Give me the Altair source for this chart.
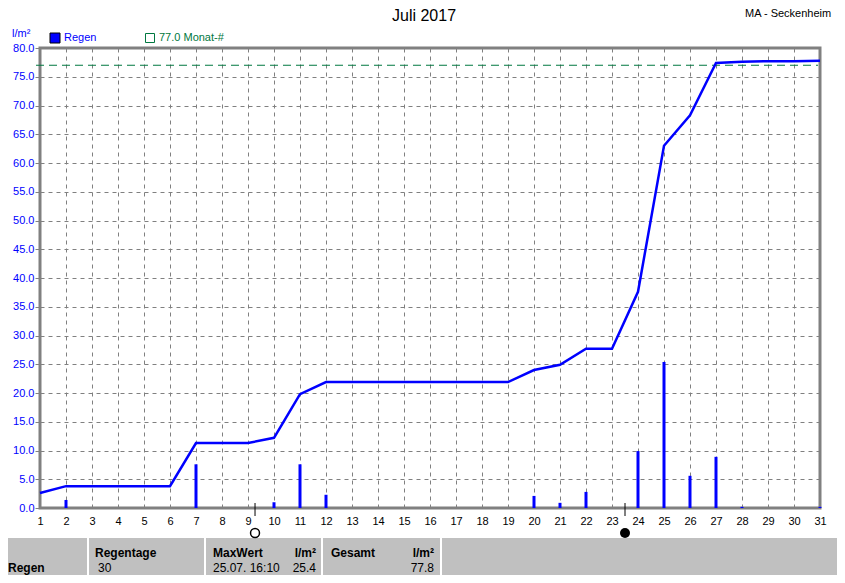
import altair as alt
import pandas as pd

# ---------------- data ----------------
days = list(range(1, 32))
cumulative = [2.6, 3.8, 3.8, 3.8, 3.8, 3.8, 11.3, 11.3, 11.3, 12.2, 19.8, 21.9,
              21.9, 21.9, 21.9, 21.9, 21.9, 21.9, 21.9, 24.0, 24.9, 27.7, 27.7,
              37.6, 63.0, 68.3, 77.4, 77.6, 77.7, 77.7, 77.8]
rain_days = [2, 7, 10, 11, 12, 20, 21, 22, 24, 25, 26, 27, 28, 31]
rain_values = [1.4, 7.6, 1.0, 7.6, 2.3, 2.1, 0.9, 2.8, 9.9, 25.4, 5.6, 8.9, 0.2, 0.2]
full_moon_day = [9.27]
new_moon_day = [23.5]
y_ticks = list(range(0, 81, 5))
x_ticks = days
monat_avg = 77.0

title_text = "Juli 2017"
station_text = "MA - Seckenheim"
unit_text = "l/m²"
legend_rain = "Regen"
legend_avg = "77.0 Monat-#"

FONT = "Liberation Sans"
BLUE = "#0000ff"
GREEN = "#007840"
GRAY = "#808080"

line_df = pd.DataFrame({"day": days, "value": cumulative})
bar_df = pd.DataFrame({"day": rain_days, "value": rain_values})
full_df = pd.DataFrame({"day": full_moon_day, "value": [0.0]})
new_df = pd.DataFrame({"day": new_moon_day, "value": [0.0]})
one = pd.DataFrame({"a": [0]})

xscale = alt.Scale(domain=[1, 31], nice=False, zero=False)
yscale = alt.Scale(domain=[0, 80], nice=False)
xaxis = alt.Axis(values=x_ticks, title=None, ticks=False, labelPadding=7,
                 labelColor="black", labelFontSize=11, format="d",
                 grid=True, domain=False, labelFlush=False)
yaxis = alt.Axis(values=y_ticks, title=None, format=".1f", labelColor=BLUE,
                 labelFontSize=11, tickSize=5, tickColor=GRAY, labelPadding=1,
                 grid=True, domain=False, labelFlush=False)
X = alt.X("day:Q", scale=xscale, axis=xaxis)
Y = alt.Y("value:Q", scale=yscale, axis=yaxis)

# ---------------- layers ----------------
table_bg = alt.Chart(one).mark_rect(color="#c0c0c0").encode(
    x=alt.value(-40), x2=alt.value(805), y=alt.value(490), y2=alt.value(545))

seps = [alt.Chart(one).mark_rule(color="white", strokeWidth=2).encode(
    x=alt.value(px), y=alt.value(490), y2=alt.value(545)) for px in [48, 165, 282, 401]]

line = alt.Chart(line_df).mark_line(color=BLUE, strokeWidth=2.5).encode(x=X, y=Y)

bars = alt.Chart(bar_df).mark_rule(color=BLUE, strokeWidth=3).encode(
    x=X, y=Y, y2=alt.datum(0))

avg_line = alt.Chart(one).mark_rule(color=GREEN, strokeWidth=1.2, strokeDash=[8, 5]).encode(
    y=alt.datum(monat_avg, scale=yscale, axis=yaxis), x=alt.value(-4), x2=alt.value(778))

moon_ticks_full = alt.Chart(full_df).mark_rule(color="black", strokeWidth=1).encode(
    x=X, y=alt.value(455), y2=alt.value(468))
moon_ticks_new = alt.Chart(new_df).mark_rule(color="black", strokeWidth=1).encode(
    x=X, y=alt.value(455), y2=alt.value(468))
full_pt = alt.Chart(full_df).mark_point(shape="circle", filled=False, color="black",
                                        strokeWidth=1.5, size=80, opacity=1).encode(
    x=X, y=alt.value(485))
new_pt = alt.Chart(new_df).mark_point(shape="circle", filled=True, color="black",
                                      size=100, opacity=1).encode(
    x=X, y=alt.value(485))


def txt(text, x, y, size=11, color="black", align="left", baseline="middle", bold=False):
    return alt.Chart(one).mark_text(
        text=text, font=FONT, fontSize=size, color=color, align=align,
        baseline=baseline, fontWeight="bold" if bold else "normal").encode(
        x=alt.value(x), y=alt.value(y))


legend_sq1 = alt.Chart(one).mark_rect(fill=BLUE, stroke="black", strokeWidth=1).encode(
    x=alt.value(10), x2=alt.value(20), y=alt.value(-15), y2=alt.value(-5))
legend_sq2 = alt.Chart(one).mark_rect(fill="white", fillOpacity=0, stroke=GREEN, strokeWidth=1).encode(
    x=alt.value(105.5), x2=alt.value(114.5), y=alt.value(-14.5), y2=alt.value(-5.5))

texts = [
    txt(title_text, 384, -27, size=16, align="center", baseline="alphabetic"),
    txt(station_text, 705, -31, baseline="alphabetic"),
    txt(unit_text, -28, -14, color=BLUE),
    txt(legend_rain, 24, -10, color=BLUE),
    txt(legend_avg, 119, -10, color=GREEN),
    txt("Regentage", 55, 509, size=12, baseline="alphabetic", bold=True),
    txt("MaxWert", 173, 509, size=12, baseline="alphabetic", bold=True),
    txt("l/m²", 276, 509, size=12, baseline="alphabetic", bold=True, align="right"),
    txt("Gesamt", 291, 509, size=12, baseline="alphabetic", bold=True),
    txt("l/m²", 394, 509, size=12, baseline="alphabetic", bold=True, align="right"),
    txt("Regen", -32, 524, size=12, baseline="alphabetic", bold=True),
    txt("30", 58, 524, size=12, baseline="alphabetic"),
    txt("25.07.  16:10", 173, 524, size=12, baseline="alphabetic"),
    txt("25.4", 276, 524, size=12, baseline="alphabetic", align="right"),
    txt("77.8", 394, 524, size=12, baseline="alphabetic", align="right"),
]

chart = alt.layer(
    table_bg, *seps, avg_line, bars, line,
    moon_ticks_full, moon_ticks_new, full_pt, new_pt,
    legend_sq1, legend_sq2, *texts,
).properties(
    width=780, height=460,
    padding={"left": 32, "top": 40, "right": 17, "bottom": 67},
    autosize=alt.AutoSizeParams(type="none"),
    background="white",
).configure_view(
    stroke=GRAY, strokeWidth=3,
).configure_axis(
    labelFont=FONT, gridColor=GRAY, gridDash=[4, 4], gridWidth=1, gridOpacity=1,
).configure_text(font=FONT)

chart.save("out.html", embed_options={"renderer": "svg", "actions": False})
